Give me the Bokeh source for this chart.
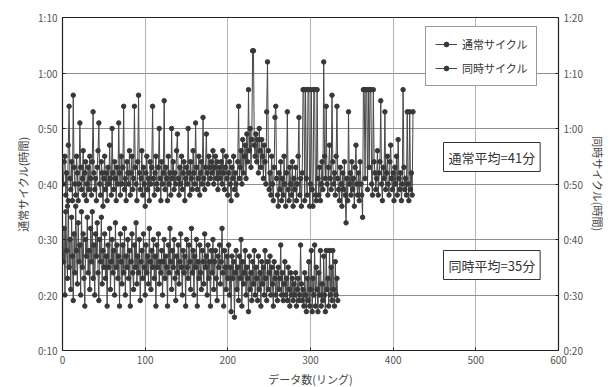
from bokeh.plotting import figure
from bokeh.models import Range1d, LinearAxis, FixedTicker, Label, Legend, LegendItem
from bokeh.embed import file_html
from bokeh.resources import INLINE

# 通常サイクル (minutes, left axis)
normal_cycle = [
    40, 44, 45, 38, 42, 36, 47, 54, 41, 39,
    44, 37, 56, 43, 40, 38, 45, 42, 37, 40,
    51, 43, 39, 41, 46, 38, 42, 44, 37, 40,
    43, 39, 45, 41, 38, 44, 53, 42, 39, 41,
    37, 43, 46, 51, 40, 38, 44, 42, 36, 41,
    45, 39, 42, 37, 43, 40, 47, 41, 38, 50,
    42, 39, 44, 41, 37, 43, 40, 51, 42, 38,
    45, 40, 43, 54, 39, 41, 37, 44, 42, 40,
    46, 38, 42, 45, 39, 41, 54, 43, 40, 37,
    44, 56, 42, 39, 41, 46, 38, 43, 40, 36,
    42, 45, 39, 41, 37, 44, 40, 43, 54, 41,
    38, 42, 45, 40, 39, 43, 50, 41, 37, 44,
    40, 42, 55, 39, 43, 41, 37, 45, 40, 42,
    38, 50, 41, 44, 39, 42, 40, 46, 49, 41,
    38, 43, 40, 45, 39, 42, 44, 37, 41, 43,
    40, 50, 42, 38, 44, 41, 39, 46, 42, 40,
    51, 43, 39, 41, 45, 38, 42, 44, 40, 52,
    41, 39, 43, 49, 42, 40, 45, 43, 41, 44,
    42, 46, 40, 43, 45, 41, 44, 39, 42, 43,
    41, 44, 40, 46, 42, 39, 43, 45, 41, 38,
    42, 44, 40, 37, 43, 41, 45, 39, 42, 40,
    38, 44, 54, 41, 43, 46, 40, 48, 42, 45,
    47, 41, 49, 44, 57, 46, 50, 43, 48, 64,
    64, 47, 45, 49, 44, 48, 42, 50, 46, 43,
    48, 45, 41, 47, 44, 40, 53, 62, 46, 39,
    42, 38, 45, 40, 37, 43, 52, 54, 41, 38,
    36, 42, 39, 44, 37, 41, 38, 45, 40, 36,
    42, 53, 39, 37, 43, 40, 38, 44, 36, 41,
    39, 43, 37, 40, 45, 52, 38, 41, 36, 42,
    57, 57, 37, 57, 41, 38, 57, 57, 36, 40,
    57, 39, 36, 57, 57, 38, 37, 57, 41, 38,
    43, 37, 40, 44, 39, 62, 45, 41, 54, 40,
    38, 43, 47, 41, 39, 56, 44, 40, 42, 38,
    45, 54, 41, 39, 37, 43, 40, 36, 42, 39,
    44, 38, 33, 41, 37, 53, 40, 42, 38, 44,
    39, 41, 36, 43, 47, 40, 38, 42, 37, 44,
    40, 38, 34, 57, 57, 41, 57, 57, 39, 57,
    43, 57, 57, 40, 38, 57, 44, 42, 39, 41,
    46, 38, 42, 44, 55, 40, 37, 43, 41, 53,
    39, 42, 45, 40, 38, 44, 47, 41, 39, 42,
    37, 43, 40, 45, 38, 48, 41, 39, 42, 37,
    40, 57, 43, 39, 41, 38, 53, 40, 37, 53,
    39, 42, 38, 53,
]

# 同時サイクル (minutes, right axis)
simul_cycle = [
    36, 42, 30, 45, 38, 33, 47, 35, 40, 31,
    44, 37, 29, 41, 34, 46, 38, 32, 43, 36,
    39, 30, 45, 35, 41, 33, 28, 40, 37, 44,
    34, 38, 31, 42, 36, 45, 33, 39, 30, 41,
    37, 43, 34, 29, 40, 36, 44, 32, 38, 35,
    41, 33, 37, 28, 39, 35, 42, 31, 36, 40,
    34, 38, 30, 43, 35, 39, 33, 37, 28, 41,
    36, 32, 39, 34, 42, 30, 37, 35, 40, 33,
    38, 28, 36, 41, 34, 31, 39, 35, 43, 32,
    37, 34, 40, 29, 36, 38, 33, 41, 35, 30,
    39, 34, 37, 32, 42, 36, 31, 38, 35, 40,
    33, 37, 28, 39, 35, 41, 32, 36, 34, 38,
    30, 36, 40, 33, 37, 35, 28, 39, 34, 42,
    36, 31, 38, 35, 40, 33, 29, 37, 34, 39,
    32, 36, 41, 35, 30, 38, 34, 37, 28, 40,
    35, 33, 39, 36, 31, 42, 34, 38, 30, 37,
    35, 40, 28, 36, 33, 39, 34, 31, 38, 36,
    32, 41, 35, 37, 30, 39, 33, 36, 28, 38,
    34, 40, 31, 36, 38, 33, 29, 37, 35, 39,
    32, 36, 42, 34, 28, 38, 35, 31, 37, 33,
    39, 30, 35, 27, 37, 33, 36, 26, 34, 38,
    31, 35, 29, 37, 33, 40, 28, 36, 32, 34,
    38, 30, 35, 33, 27, 37, 31, 34, 29, 36,
    32, 38, 30, 35, 33, 29, 37, 31, 34, 28,
    36, 32, 35, 30, 38, 33, 29, 36, 31, 34,
    37, 30, 35, 32, 28, 36, 33, 30, 34, 29,
    35, 31, 33, 39, 30, 34, 29, 32, 36, 30,
    33, 29, 35, 31, 28, 34, 30, 33, 29, 32,
    30, 34, 28, 31, 33, 29, 30, 39, 32, 29,
    31, 28, 34, 30, 27, 33, 29, 36, 28, 31,
    38, 27, 33, 30, 39, 28, 35, 31, 27, 34,
    30, 38, 28, 32, 29, 37, 30, 27, 38, 31,
    33, 28, 38, 30, 35, 29, 38, 31, 28, 36,
    30, 33, 29,
]

normal_x = list(range(1, len(normal_cycle) + 1))
simul_x = list(range(1, len(simul_cycle) + 1))

x_ticks = [0, 100, 200, 300, 400, 500, 600]
left_ticks = [10, 20, 30, 40, 50, 60, 70]
left_tick_labels = ["0:10", "0:20", "0:30", "0:40", "0:50", "1:00", "1:10"]
right_ticks = [20, 30, 40, 50, 60, 70, 80]
right_tick_labels = ["0:20", "0:30", "0:40", "0:50", "1:00", "1:10", "1:20"]

series_names = ["通常サイクル", "同時サイクル"]
mean_labels = ["通常平均=41分", "同時平均=35分"]
right_axis_title = "同時サイクル(時間)"

FONT = "Noto Sans CJK JP"
INK = "#383838"

p = figure(frame_width=496, frame_height=333,
           min_border_left=62, min_border_right=52,
           min_border_top=17, min_border_bottom=37,
           x_range=Range1d(0, 600), y_range=Range1d(10, 70),
           output_backend="svg", toolbar_location=None,
           background_fill_color="white", border_fill_color="white")
p.extra_y_ranges = {"right": Range1d(20, 80)}

p.outline_line_color = "#222222"
p.outline_line_width = 1.2

p.xaxis.ticker = FixedTicker(ticks=x_ticks)
p.yaxis.ticker = FixedTicker(ticks=left_ticks)
p.yaxis.major_label_overrides = dict(zip(left_ticks, left_tick_labels))
p.xaxis.axis_label = "データ数(リング)"
p.yaxis.axis_label = "通常サイクル(時間)"

ax_r = LinearAxis(y_range_name="right", ticker=FixedTicker(ticks=right_ticks),
                  axis_label=right_axis_title)
ax_r.major_label_overrides = dict(zip(right_ticks, right_tick_labels))
p.add_layout(ax_r, "right")

for ax in [p.xaxis[0], p.yaxis[0], ax_r]:
    ax.axis_line_color = "#222222"
    ax.major_tick_in = 3
    ax.major_tick_out = 0
    ax.minor_tick_line_color = None
    ax.major_tick_line_color = "#222222"
    ax.major_label_text_font = FONT
    ax.major_label_text_font_size = "10px"
    ax.major_label_text_color = "#555555"
    ax.axis_label_text_font = FONT
    ax.axis_label_text_font_size = "11px"
    ax.axis_label_text_font_style = "normal"
    ax.axis_label_text_color = "#444444"
    ax.axis_label_standoff = 4

p.xgrid.ticker = FixedTicker(ticks=x_ticks)
p.ygrid.ticker = FixedTicker(ticks=left_ticks)
p.xgrid.grid_line_color = "#b5b5b5"
p.ygrid.grid_line_color = "#8f8f8f"
p.xgrid.grid_line_width = 1
p.ygrid.grid_line_width = 1

ln1 = p.line(normal_x, normal_cycle, line_color="#474747", line_width=1)
sc1 = p.scatter(normal_x, normal_cycle, size=4.5, marker="circle",
                fill_color=INK, line_color=INK)
ln2 = p.line(simul_x, simul_cycle, line_color="#474747", line_width=1,
             y_range_name="right")
sc2 = p.scatter(simul_x, simul_cycle, size=4.5, marker="circle",
                fill_color=INK, line_color=INK, y_range_name="right")

legend = Legend(items=[LegendItem(label=series_names[0], renderers=[ln1, sc1]),
                       LegendItem(label=series_names[1], renderers=[ln2, sc2])],
                location=(363, 264))
legend.border_line_color = "#333333"
legend.border_line_width = 1
legend.background_fill_color = "white"
legend.background_fill_alpha = 1
legend.label_text_font = FONT
legend.label_text_font_size = "11px"
legend.label_text_color = "#333333"
legend.glyph_width = 22
legend.glyph_height = 12
legend.spacing = 8
legend.padding = 9
legend.margin = 0
legend.label_standoff = 5
p.add_layout(legend)

for txt, ypos in zip(mean_labels, [179, 71]):
    lab = Label(x=381, y=ypos, x_units="screen", y_units="screen", text=txt,
                text_font=FONT, text_font_size="13px", text_color="#333333",
                text_baseline="bottom",
                border_line_color="#333333", border_line_width=1,
                background_fill_color="white", padding=5)
    p.add_layout(lab)

open("out.html", "w").write(file_html(p, INLINE))
